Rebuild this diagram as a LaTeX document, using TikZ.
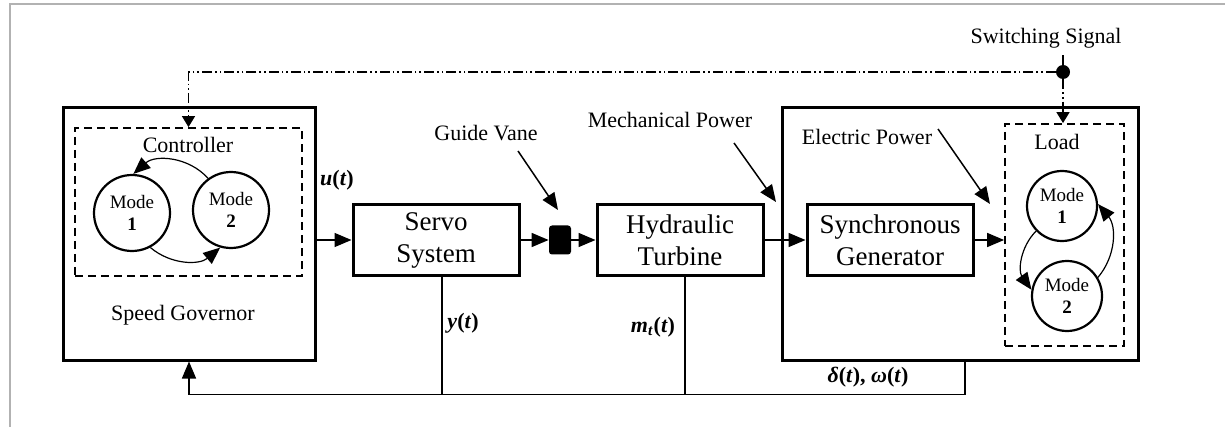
\documentclass[tikz,border=0pt]{standalone}
\usepackage{fontspec}
\setmainfont{Liberation Serif}
\usetikzlibrary{arrows.meta,positioning}

\begin{document}
\begin{tikzpicture}[
  x=0.5pt,y=-0.5pt,
  font=\fontsize{11}{13}\selectfont,
  block/.style={draw,line width=1.5pt,minimum width=83pt,minimum height=35pt,inner sep=2pt,align=center,font=\fontsize{13.5}{16}\selectfont},
  frame/.style={draw,line width=1.5pt,minimum width=#1,minimum height=126pt},
  group/.style={draw,dash pattern=on 4pt off 2.5pt,line width=0.9pt},
  mode/.style={draw,circle,line width=1.1pt,minimum size=#1,inner sep=0pt,align=center,font=\fontsize{9.5}{11}\selectfont},
  arrow/.style={-{Triangle[length=8.5pt,width=7pt]},line width=0.75pt},
  switch/.style={-{Triangle[length=5.5pt,width=6.5pt]},line width=0.75pt,dash pattern=on 5pt off 1.5pt on 0.8pt off 1.5pt on 0.8pt off 1.5pt},
  signal/.style={font=\fontsize{11}{13}\selectfont\bfseries},
]
  \path[fill=white,use as bounding box] (0,0) rectangle (1225,427);
  \draw[black!30,line width=0.8pt] (10,427) -- (10,4) -- (1225,4);

  % speed governor with switched controller
  \node[frame=126pt] (gov) at (189,234) {};
  \node[group,minimum width=113.5pt,minimum height=74pt] (ctrl) at (188.5,202) {};
  \node (ctrltxt) at (188,145) {Controller};
  \node[mode=38pt] (cm1) at (132,213) {Mode\\\textbf{1}};
  \node[mode=38pt] (cm2) at (231,210) {Mode\\\textbf{2}};
  \node (govtxt) at (183,315) {Speed Governor};

  % forward path
  \node[block] (servo) at (436,240) {Servo\\System};
  \node[fill,rounded corners=1.5pt,minimum width=11pt,minimum height=14.5pt,inner sep=0pt] (vane) at (560,240) {};
  \node[block] (turbine) at (680,240) {Hydraulic\\Turbine};
  \node[frame=178pt] (plant) at (960,234) {};
  \node[block] (gen) at (890,240) {Synchronous\\Generator};
  \node[group,minimum width=59.5pt,minimum height=111pt] (load) at (1064.5,235) {};
  \node (loadtxt) at (1057,142) {Load};
  \node[mode=35pt] (lm1) at (1062,206) {Mode\\\textbf{1}};
  \node[mode=35pt] (lm2) at (1067,296) {Mode\\\textbf{2}};

  \draw[arrow,line width=0.6pt] (cm2.126) to[bend right=45] (cm1.88);
  \draw[arrow,line width=0.6pt] (cm1.-62) to[bend right=40] (cm2.-106);
  \draw[arrow,line width=0.6pt] (lm1.224) to[bend right=40] (lm2.170);
  \draw[arrow,line width=0.6pt] (lm2.31) to[bend right=40] (lm1.3);

  \draw[arrow] (gov.east |- servo.west) -- (servo.west);
  \draw[arrow] (servo) -- (vane);
  \draw[arrow] (vane) -- (turbine);
  \draw[arrow] (turbine) -- (gen);
  \draw[arrow] (gen.east) -- (load.west |- gen.east);

  % switching signal
  \node[circle,fill,inner sep=0pt,minimum size=7pt] (swdot) at (1063,72) {};
  \node (swtxt) at (1046,38) {Switching Signal};
  \draw[line width=0.75pt] (swdot) -- (swdot |- swtxt.south);
  \draw[switch] (swdot) -| (ctrl.north);
  \draw[switch] (swdot) -- (swdot |- load.north);

  % pointer labels
  \node (gvtxt) at (486,133) {Guide Vane};
  \node (mechtxt) at (670,120) {Mechanical Power};
  \node (electxt) at (867,137) {Electric Power};
  \draw[arrow] ([shift={(32,18)}]gvtxt.center) -- ++(40,59);
  \draw[arrow] ([shift={(64,23)}]mechtxt.center) -- ++(42,59);
  \draw[arrow] ([shift={(71,-8)}]electxt.center) -- ++(52,75);

  % feedback
  \draw[line width=0.75pt] ([xshift=3pt]servo.south) -- ++(0,117);
  \draw[line width=0.75pt] ([xshift=2.5pt]turbine.south) -- ++(0,118);
  \draw[arrow] ([xshift=2.5pt]plant.south) -- ++(0,33) -| (gov.south);

  \node[signal] (utxt) at (337,180) {\textit{u}(\textit{t})};
  \node[signal] (ytxt) at (463,323) {\textit{y}(\textit{t})};
  \node[signal] (mtxt) at (653,327) {\textit{m}\textsubscript{\textit{t}}(\textit{t})};
  \node[signal] (dtxt) at (868,377) {\textit{δ}(\textit{t}), \textit{ω}(\textit{t})};
\end{tikzpicture}
\end{document}
